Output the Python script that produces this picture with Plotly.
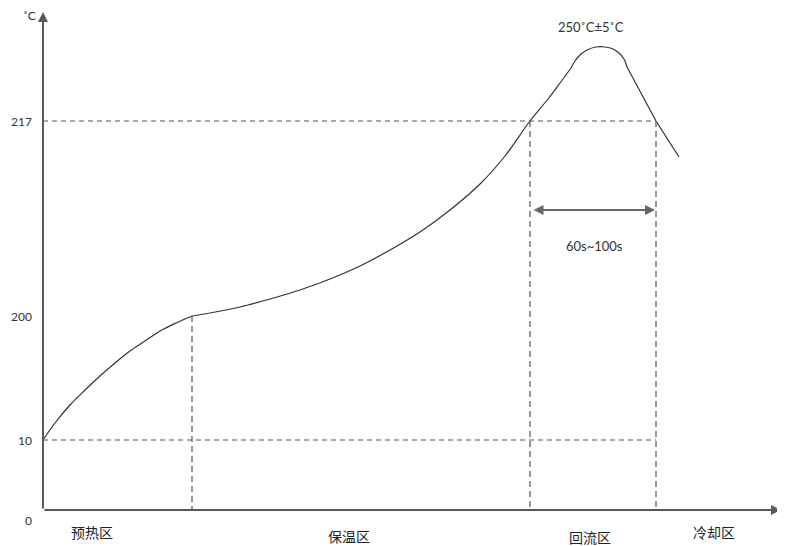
import plotly.graph_objects as go

# Schematic reflow profile (schematic units: x = time position, y = level position)
ORIGIN_Y = 510
def Y(p):
    return ORIGIN_Y - p
def X(p):
    return p - 43

# Curve points (pixel-like schematic units)
preheat_x = [43, 55, 70, 85, 100, 115, 130, 145, 160, 176, 192]
preheat_y = [440, 423, 405, 390, 376, 363, 351, 341, 331, 323, 316]

soak_x = [192, 210, 240, 270, 300, 330, 360, 390, 420, 450, 480, 505, 530, 548, 560, 571]
soak_y = [316, 313, 307, 299, 290, 279, 266, 250, 232, 210, 184, 156, 121, 99, 83, 68]

peak_x = [571, 575, 580, 587, 596, 605, 613, 619, 624, 627]
peak_y = [68, 61, 55, 50, 47, 47, 49, 53, 59, 67]

cool_x = [627, 656, 679]
cool_y = [67, 121, 157]

# level positions and tick labels
tick_pos = [520, 440, 316, 121]
tick_labels = ["0", "10", "200", "217"]

# zone boundaries
zone_x = [192, 530, 656]
zone_top = [316, 121, 121]

zone_names = ["预热区", "保温区", "回流区", "冷却区"]
zone_label_x = [92, 349, 590, 714]
zone_label_y = [532, 536, 537, 532]

font_lat = "Lato, 'Noto Sans', sans-serif"
font_cjk = "'Noto Sans CJK SC', sans-serif"
axis_color = "#5a5a5a"
dash_color = "#555555"

PAGE_OFF = 8  # browser body margin

fig = go.Figure()
for xs, ys, shape in [(preheat_x, preheat_y, "spline"), (soak_x, soak_y, "spline"),
                      (peak_x, peak_y, "spline"), (cool_x, cool_y, "linear")]:
    fig.add_trace(go.Scatter(x=[X(v) for v in xs], y=[Y(v) for v in ys], mode="lines",
                             line=dict(color="#333333", width=1.2, shape=shape),
                             hoverinfo="skip", showlegend=False))

shapes = []
for py in [121, 440]:
    shapes.append(dict(type="line", xref="x", yref="y", x0=X(43), x1=X(656), y0=Y(py), y1=Y(py),
                       line=dict(color=dash_color, width=1.2, dash="5px,4px")))
for zx, zt in zip(zone_x, zone_top):
    shapes.append(dict(type="line", xref="x", yref="y", x0=X(zx), x1=X(zx), y0=Y(zt), y1=Y(510),
                       line=dict(color=dash_color, width=1.2, dash="6px,4px")))

annotations = []
annotations.append(dict(x=X(781), y=Y(510), ax=X(43), ay=Y(510), xref="x", yref="y",
                        axref="x", ayref="y", text="", showarrow=True, arrowhead=2,
                        arrowsize=1.0, arrowwidth=2, arrowcolor=axis_color))
annotations.append(dict(x=X(43), y=Y(12), ax=X(43), ay=Y(510), xref="x", yref="y",
                        axref="x", ayref="y", text="", showarrow=True, arrowhead=2,
                        arrowsize=1.0, arrowwidth=2, arrowcolor=axis_color))
annotations.append(dict(x=X(655), y=Y(210), ax=X(532), ay=Y(210), xref="x", yref="y",
                        axref="x", ayref="y", text="", showarrow=True, arrowhead=2,
                        startarrowhead=2, arrowside="end+start", arrowsize=1.0,
                        arrowwidth=2, arrowcolor="#666666"))
annotations.append(dict(x=X(594), y=Y(246), xref="x", yref="y", text="60s~100s", showarrow=False,
                        font=dict(family=font_lat, size=13, color="#333333")))
annotations.append(dict(x=X(591), y=Y(27), xref="x", yref="y", text="250˚C±5˚C", showarrow=False,
                        font=dict(family=font_lat, size=13, color="#333333")))
annotations.append(dict(x=X(29), y=Y(15), xref="x", yref="y", text="˚C", showarrow=False,
                        font=dict(family=font_lat, size=12, color="#333333")))
for t, py in zip(tick_labels, tick_pos):
    annotations.append(dict(x=X(34), y=Y(py), xref="x", yref="y", text=t, showarrow=False,
                            xanchor="right", font=dict(family=font_lat, size=12, color="#333333")))
for t, lx, ly in zip(zone_names, zone_label_x, zone_label_y):
    annotations.append(dict(x=X(lx), y=Y(ly), xref="x", yref="y", text=t, showarrow=False,
                            font=dict(family=font_cjk, size=14, color="#222222")))

fig.update_layout(
    width=785 - PAGE_OFF, height=546 - PAGE_OFF,
    margin=dict(l=0, r=0, t=0, b=0),
    paper_bgcolor="white", plot_bgcolor="white",
    xaxis=dict(range=[X(PAGE_OFF), X(785)], visible=False, fixedrange=True),
    yaxis=dict(range=[Y(546), Y(PAGE_OFF)], visible=False, fixedrange=True),
    shapes=shapes, annotations=annotations, showlegend=False,
)

fig.write_html("out.html")
